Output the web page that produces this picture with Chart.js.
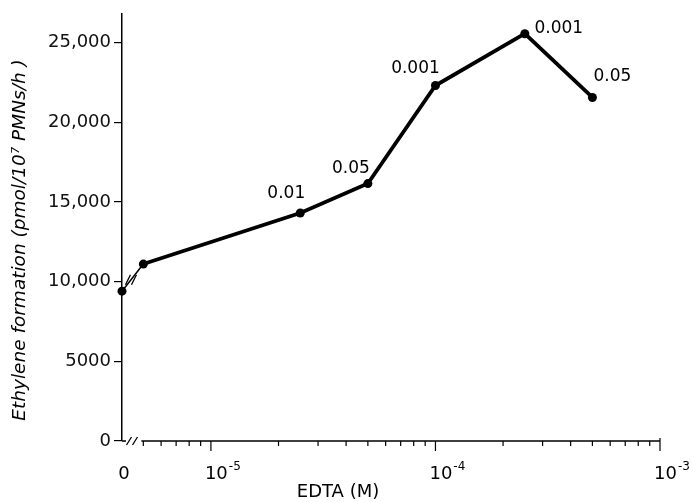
<!DOCTYPE html>
<html><head><meta charset="utf-8">
<script src="https://cdn.jsdelivr.net/npm/chart.js@4.4.1/dist/chart.umd.min.js"></script>
<style>html,body{margin:0;padding:0;background:#fff}#wrap{width:693px;height:502px}</style>
</head><body><div id="wrap"><canvas id="c"></canvas></div>
<script>
// ---- data ----
const concentrations = [0, 5e-6, 2.5e-5, 5e-5, 1e-4, 2.5e-4, 5e-4];   // EDTA (M)
const ethylene = [9400, 11100, 14300, 16150, 22300, 25550, 21550];     // pmol/10^7 PMNs/h
const pointLabels = ['', '', '0.01', '0.05', '0.001', '0.001', '0.05'];
const xTickValues = [0, 1e-5, 1e-4, 1e-3];
const xTickBase = ['0', '10', '10', '10'];
const xTickExp = ['', '-5', '-4', '-3'];
const yTickValues = [0, 5000, 10000, 15000, 20000, 25000];
const yTickLabels = ['0', '5000', '10,000', '15,000', '20,000', '25,000'];

// ---- scale helpers ----
const ZERO_POS = -5.396;            // where "0" sits on the broken log axis (log10 units)
const BREAK_START = Math.log10(5e-6);
const toPos = c => c > 0 ? Math.log10(c) : ZERO_POS;

const FONT = '"DejaVu Sans", sans-serif';
const labelOffsets = [null, null, [-14, -19], [-17, -15], [-20, -17], [34, -5], [20, -21]];

const decor = {
  id: 'decor',
  afterDatasetsDraw(chart) {
    const ctx = chart.ctx, xs = chart.scales.x;
    const y0 = chart.chartArea.bottom;
    ctx.save();
    ctx.strokeStyle = '#000'; ctx.fillStyle = '#000';
    // x axis line with break
    const xl = xs.getPixelForValue(ZERO_POS);
    const xb = xs.getPixelForValue(BREAK_START);
    ctx.lineWidth = 1.5;
    ctx.beginPath();
    ctx.moveTo(xl, y0); ctx.lineTo(xl + 4, y0);
    ctx.moveTo(xb - 2, y0); ctx.lineTo(xs.getPixelForValue(-3), y0);
    ctx.stroke();
    // break slashes on axis
    ctx.lineWidth = 1.3;
    ctx.beginPath();
    [xl + 7, xl + 13].forEach(x => { ctx.moveTo(x - 2.5, y0 + 4); ctx.lineTo(x + 2.5, y0 - 4); });
    ctx.stroke();
    // ticks: minor and major
    ctx.lineWidth = 1.2;
    ctx.beginPath();
    for (let n = -6; n <= -4; n++) {
      for (let k = 1; k <= 9; k++) {
        const v = k * Math.pow(10, n);
        if (v < 4.99e-6) continue;
        const p = xs.getPixelForValue(Math.log10(v));
        const len = k === 1 ? 10 : 5;
        ctx.moveTo(p, y0); ctx.lineTo(p, y0 + len);
      }
    }
    const pEnd = xs.getPixelForValue(-3);
    ctx.moveTo(pEnd, y0 - 3); ctx.lineTo(pEnd, y0 + 10);
    ctx.stroke();
    // x tick labels with superscript exponents
    ctx.textBaseline = 'alphabetic';
    xTickValues.forEach((v, i) => {
      const p = xs.getPixelForValue(toPos(v));
      ctx.font = '18px ' + FONT;
      if (!xTickExp[i]) {
        ctx.textAlign = 'center';
        ctx.fillText(xTickBase[i], p + 2, 479);
        return;
      }
      ctx.textAlign = 'left';
      const left = p - 6;
      ctx.fillText(xTickBase[i], left, 479);
      const w = ctx.measureText(xTickBase[i]).width;
      ctx.font = '12px ' + FONT;
      ctx.fillText(xTickExp[i], left + w + 1, 470);
    });
    // break slashes on data line (between point 0 and point 1)
    const meta = chart.getDatasetMeta(0);
    const a = meta.data[0], b = meta.data[1];
    const cx = a.x + (b.x - a.x) * 0.42, cy = a.y + (b.y - a.y) * 0.42;
    ctx.lineWidth = 1.3;
    ctx.beginPath();
    [-3, 3].forEach(d => {
      ctx.moveTo(cx + d - 2.5, cy + 5); ctx.lineTo(cx + d + 2.5, cy - 5);
    });
    ctx.stroke();
    // point labels
    ctx.font = '17px ' + FONT;
    ctx.textAlign = 'center'; ctx.textBaseline = 'middle';
    meta.data.forEach((pt, i) => {
      if (!pointLabels[i]) return;
      const o = labelOffsets[i];
      ctx.fillText(pointLabels[i], pt.x + o[0], pt.y + o[1]);
    });
    // axis titles
    ctx.font = '18px ' + FONT;
    ctx.fillText('EDTA (M)', 338, 492);
    ctx.save();
    ctx.translate(20, 240);
    ctx.rotate(-Math.PI / 2);
    ctx.font = 'italic 18.5px ' + FONT;
    ctx.fillText('Ethylene formation (pmol/10\u2077 PMNs/h )', 0, 0);
    ctx.restore();
    ctx.restore();
  }
};

new Chart(document.getElementById('c'), {
  type: 'line',
  data: {
    datasets: [{
      data: concentrations.map((c, i) => ({ x: toPos(c), y: ethylene[i] })),
      borderColor: '#000',
      backgroundColor: '#000',
      borderWidth: 3.8,
      pointRadius: 4.5,
      pointBackgroundColor: '#000',
      pointBorderWidth: 0,
      tension: 0,
      clip: false,
      segment: { borderWidth: c => c.p0DataIndex === 0 ? 1.5 : 3.8 }
    }]
  },
  options: {
    responsive: true,
    maintainAspectRatio: false,
    animation: false,
    devicePixelRatio: 1,
    layout: { padding: { left: 0, top: 13, right: 33, bottom: 0 } },
    plugins: { legend: { display: false }, tooltip: { enabled: false } },
    scales: {
      x: {
        type: 'linear',
        min: ZERO_POS, max: -3,
        grid: { display: false },
        border: { display: false },
        afterBuildTicks: s => { s.ticks = xTickValues.map(v => ({ value: toPos(v) })); },
        afterFit: s => { s.height = 61; },
        ticks: { display: false }
      },
      y: {
        min: 0, max: 26800,
        afterBuildTicks: s => { s.ticks = yTickValues.map(v => ({ value: v })); },
        afterFit: s => { s.width = 122; },
        grid: { drawOnChartArea: false, drawTicks: true, tickLength: 8, color: '#000', lineWidth: 1.2 },
        border: { display: true, color: '#000', width: 1.5 },
        ticks: {
          padding: 3, color: '#111', font: { family: FONT, size: 18 },
          callback: (v, i) => yTickLabels[i]
        }
      }
    }
  },
  plugins: [decor]
});
</script></body></html>
